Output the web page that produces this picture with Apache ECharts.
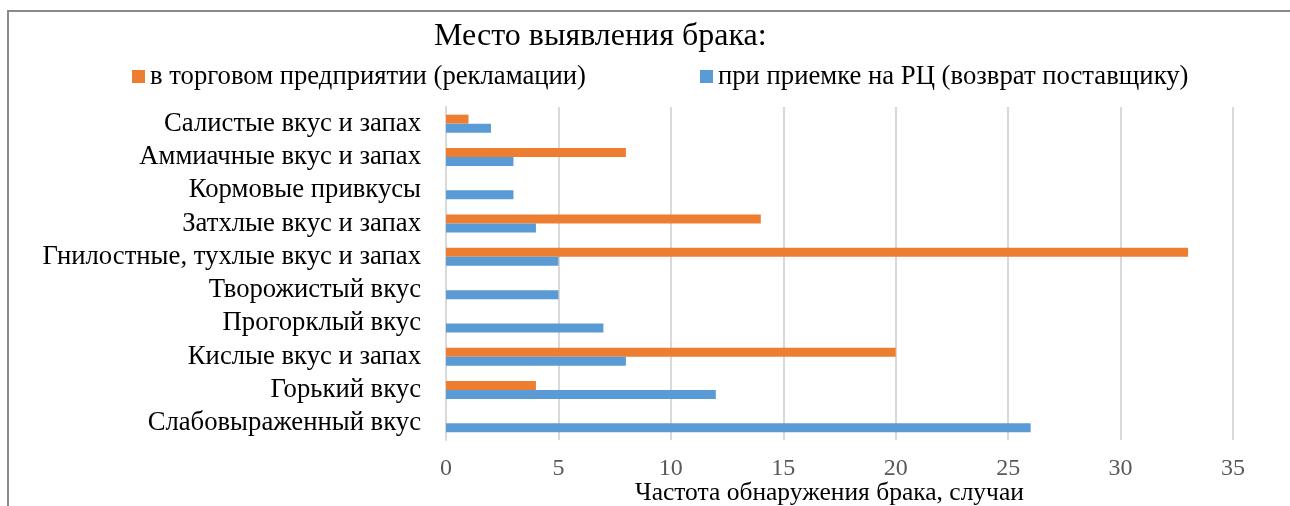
<!DOCTYPE html>
<html>
<head>
<meta charset="utf-8">
<script src="https://cdn.jsdelivr.net/npm/echarts@6/dist/echarts.min.js"></script>
<style>
html,body{margin:0;padding:0;background:#fff;}
#chart{width:1290px;height:506px;}
</style>
</head>
<body>
<div id="chart"></div>
<script>
const categories = [
  'Слабовыраженный вкус',
  'Горький вкус',
  'Кислые вкус и запах',
  'Прогорклый вкус',
  'Творожистый вкус',
  'Гнилостные, тухлые вкус и запах',
  'Затхлые вкус и запах',
  'Кормовые привкусы',
  'Аммиачные вкус и запах',
  'Салистые вкус и запах'
];
const retailValues = [0, 4, 20, 0, 0, 33, 14, 0, 8, 1];
const dcValues = [26, 12, 8, 7, 5, 5, 4, 3, 3, 2];
const retailName = 'в торговом предприятии (рекламации)';
const dcName = 'при приемке на РЦ (возврат поставщику)';
const titleText = 'Место выявления брака:';
const xAxisName = 'Частота обнаружения брака, случаи';

const FONT = '"Liberation Serif", "Times New Roman", serif';
const chart = echarts.init(document.getElementById('chart'), null, {renderer: 'canvas'});
chart.setOption({
  backgroundColor: '#ffffff',
  animation: false,
  textStyle: {fontFamily: FONT},
  title: {
    text: titleText,
    left: 429,
    top: 16,
    textStyle: {fontFamily: FONT, fontSize: 32, fontWeight: 'normal', color: '#000'}
  },
  legend: {
    data: [retailName, dcName],
    left: 127,
    top: 58,
    itemWidth: 13,
    itemHeight: 13,
    itemGap: 114,
    icon: 'rect',
    textStyle: {fontFamily: FONT, fontSize: 26.7, color: '#000'}
  },
  grid: {left: 446, right: 57, top: 107, bottom: 66, containLabel: false, outerBoundsMode: 'none'},
  xAxis: {
    type: 'value',
    min: 0,
    max: 35,
    interval: 5,
    name: xAxisName,
    nameLocation: 'middle',
    nameGap: 40,
    nameMoveOverlap: false,
    nameTextStyle: {fontFamily: FONT, fontSize: 25.5, color: '#000', padding: [0, 20, 0, 0]},
    axisLine: {show: false},
    axisTick: {show: false},
    axisLabel: {fontFamily: FONT, fontSize: 24, color: '#595959', margin: 17},
    splitLine: {show: true, lineStyle: {color: '#d9d9d9', width: 2}}
  },
  yAxis: {
    type: 'category',
    data: categories,
    axisLine: {show: true, lineStyle: {color: '#d9d9d9', width: 2}},
    axisTick: {show: false},
    axisLabel: {fontFamily: FONT, fontSize: 26.7, color: '#000', margin: 25, interval: 0, padding: [3, 0, 0, 0]}
  },
  series: [
    {
      name: retailName,
      type: 'bar',
      data: retailValues,
      barWidth: 9,
      barGap: '0%',
      itemStyle: {color: '#ed7d31'}
    },
    {
      name: dcName,
      type: 'bar',
      data: dcValues,
      barWidth: 9,
      barGap: '0%',
      itemStyle: {color: '#5b9bd5'}
    }
  ],
  graphic: [
    {type: 'line', shape: {x1: 7, y1: 11, x2: 1290, y2: 11}, style: {stroke: '#8a8a8a', lineWidth: 2}},
    {type: 'line', shape: {x1: 8, y1: 10, x2: 8, y2: 506}, style: {stroke: '#8a8a8a', lineWidth: 2}}
  ]
});
</script>
</body>
</html>
